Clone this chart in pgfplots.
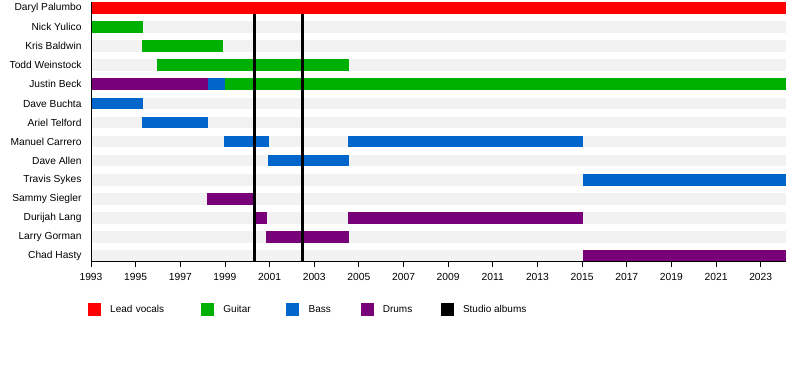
\documentclass[border=0pt]{standalone}
\usepackage{pgfplots}
\pgfplotsset{compat=1.18}
\usepackage{fontspec}
\setmainfont{Liberation Sans}
\definecolor{cLead}{RGB}{255,0,0}
\definecolor{cGuitar}{RGB}{0,176,0}
\definecolor{cBass}{RGB}{0,102,204}
\definecolor{cDrums}{RGB}{120,0,120}
\definecolor{cBg}{RGB}{242,242,242}
\begin{document}
\begin{tikzpicture}[x=1pt,y=1pt]
\path (0,0) rectangle (800,380);
\begin{axis}[
  at={(91pt,120pt)}, anchor=south west, scale only axis,
  width=694.7pt, height=260pt,
  xmin=1993, xmax=2024.12, ymin=0.693, ymax=14.33,
  axis on top,
  axis x line*=bottom, axis y line*=left,
  axis line style={line width=1pt, black},
  xtick={1993,1995,...,2023}, minor x tick num=1,
  tick align=outside, major tick length=5pt, minor tick length=3pt,
  x tick style={black, line width=0.8pt},
  /pgf/number format/assume math mode=true,
  x tick label style={/pgf/number format/1000 sep={}, font=\fontsize{10.3}{12}\selectfont, yshift=-3pt},
  ytick={1,...,14},
  yticklabels={Chad Hasty,Larry Gorman,Durijah Lang,Sammy Siegler,Travis Sykes,Dave Allen,Manuel Carrero,Ariel Telford,Dave Buchta,Justin Beck,Todd Weinstock,Kris Baldwin,Nick Yulico,Daryl Palumbo},
  y tick label style={font=\fontsize{10.2}{12}\selectfont, xshift=-1pt},
  y tick style={draw=none},
  unbounded coords=jump,
  clip=false,
  legend columns=5,
  legend style={at={(-0.0043,-0.1595)}, anchor=north west, draw=none, inner sep=0pt, outer sep=0pt,
    font=\fontsize{10}{12}\selectfont,
    nodes={inner sep=0pt, outer sep=0pt, align=left}},
  legend image code/.code={\fill[#1] (0pt,-6pt) rectangle (12pt,6pt); \path[draw=none,fill=none] (0pt,0pt) -- (22pt,0pt);},
]
% background rows
\addplot[forget plot, cBg, line width=11.7pt] coordinates {
(1993,1) (2024.12,1) (2024.12,nan)
(1993,2) (2024.12,2) (2024.12,nan)
(1993,3) (2024.12,3) (2024.12,nan)
(1993,4) (2024.12,4) (2024.12,nan)
(1993,5) (2024.12,5) (2024.12,nan)
(1993,6) (2024.12,6) (2024.12,nan)
(1993,7) (2024.12,7) (2024.12,nan)
(1993,8) (2024.12,8) (2024.12,nan)
(1993,9) (2024.12,9) (2024.12,nan)
(1993,10) (2024.12,10) (2024.12,nan)
(1993,11) (2024.12,11) (2024.12,nan)
(1993,12) (2024.12,12) (2024.12,nan)
(1993,13) (2024.12,13) (2024.12,nan)
};
% lead vocals
\addplot[forget plot, cLead, line width=11.7pt] coordinates {(1993,14) (2024.12,14)};
% guitar
\addplot[forget plot, cGuitar, line width=11.7pt] coordinates {
(1993,13) (1995.33,13) (1995.33,nan)
(1995.3,12) (1998.9,12) (1998.9,nan)
(1995.96,11) (2004.56,11) (2004.56,nan)
(1999.0,10) (2024.12,10)
};
% bass
\addplot[forget plot, cBass, line width=11.7pt] coordinates {
(1998.24,10) (1999.02,10) (1999.02,nan)
(1993,9) (1995.33,9) (1995.33,nan)
(1995.3,8) (1998.24,8) (1998.24,nan)
(1998.96,7) (2000.97,7) (2000.97,nan)
(2004.52,7) (2015.04,7) (2015.04,nan)
(2000.93,6) (2004.56,6) (2004.56,nan)
(2015.04,5) (2024.12,5)
};
% drums
\addplot[forget plot, cDrums, line width=11.7pt] coordinates {
(1993,10) (1998.24,10) (1998.24,nan)
(1998.2,4) (2000.39,4) (2000.39,nan)
(2000.35,3) (2000.88,3) (2000.88,nan)
(2004.52,3) (2015.04,3) (2015.04,nan)
(2000.84,2) (2004.56,2) (2004.56,nan)
(2015.04,1) (2024.12,1)
};
% studio albums
\addplot[forget plot, black, line width=2.7pt] coordinates {
(2000.32,0.693) (2000.32,13.693) (2000.32,nan)
(2002.47,0.693) (2002.47,13.693)
};
\addlegendimage{cLead}\addlegendentry[text width=91pt]{Lead vocals}
\addlegendimage{cGuitar}\addlegendentry[text width=63pt]{Guitar}
\addlegendimage{cBass}\addlegendentry[text width=52pt]{Bass}
\addlegendimage{cDrums}\addlegendentry[text width=58pt]{Drums}
\addlegendimage{black}\addlegendentry{Studio albums}
\end{axis}
\end{tikzpicture}
\end{document}
